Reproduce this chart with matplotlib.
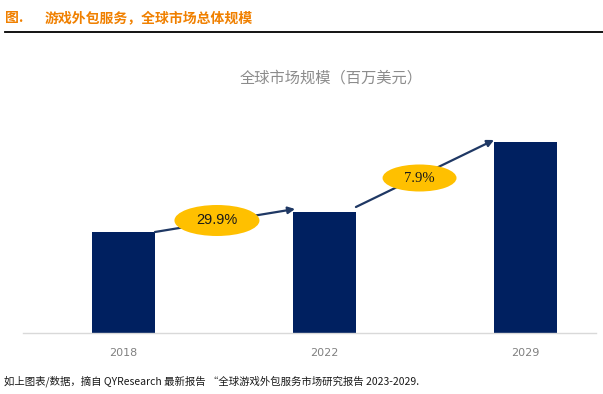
import matplotlib
matplotlib.use("Agg")
import matplotlib.pyplot as plt
from matplotlib.patches import Ellipse
from matplotlib.lines import Line2D

plt.rcParams['font.family'] = ['Noto Sans CJK SC', 'DejaVu Sans']

# Data (relative units)
years = ["2018", "2022", "2029"]
values = [101, 121, 191]
growth_labels = ["29.9%", "7.9%"]

W, H = 603, 394
fig = plt.figure(figsize=(W / 100, H / 100), dpi=100)
ax = fig.add_axes([23 / W, 1 - 333 / H, (596 - 23) / W, 233 / H])

bar_w = 0.313
x = list(range(len(years)))
navy = "#002060"
ax.bar(x, values, width=bar_w, color=navy, zorder=2)
ax.set_xlim(-0.5, 2.351)
ax.set_ylim(0, 233)
ax.set_xticks(x)
ax.set_xticklabels(years, color="#808080", fontsize=8, family=['DejaVu Sans'])
ax.tick_params(axis='x', length=0, pad=11)
ax.set_yticks([])
for s in ["top", "right", "left"]:
    ax.spines[s].set_visible(False)
ax.spines["bottom"].set_color("#D9D9D9")
ax.spines["bottom"].set_linewidth(1.0)

# Arrows between bars
arrow_col = "#1F3864"
starts = [(0 + bar_w / 2, values[0]), (1 + bar_w / 2, values[1] + 5)]
ends = [(1 - bar_w / 2 + 0.01, values[1] + 3), (2 - bar_w / 2, values[2] + 2)]
ell_sizes = [(0.423, 31), (0.368, 27)]
ell_offsets = [(-0.04, 0), (-0.027, -4.5)]
fonts = [['Liberation Sans'], ['Liberation Serif']]
for i in range(2):
    ax.annotate("", xy=ends[i], xytext=starts[i],
                arrowprops=dict(arrowstyle="-|>", color=arrow_col, lw=1.6,
                                mutation_scale=10, shrinkA=0, shrinkB=0),
                zorder=3)
    mx = (starts[i][0] + ends[i][0]) / 2 + ell_offsets[i][0]
    my = (starts[i][1] + ends[i][1]) / 2 + ell_offsets[i][1]
    e = Ellipse((mx, my), ell_sizes[i][0], ell_sizes[i][1], color="#FFC000",
                ec="none", zorder=4)
    ax.add_patch(e)
    ax.text(mx, my, growth_labels[i], ha="center", va="center", fontsize=10.5,
            color="#1a1a1a", family=fonts[i], zorder=5)

# Chart title
fig.text(331 / W, 1 - 78 / H, "全球市场规模（百万美元）", ha="center", va="center",
         fontsize=11, color="#8C8C8C")

# Header
orange = "#F08000"
fig.text(5 / W, 1 - 18 / H, "图.", ha="left", va="center", fontsize=10,
         fontweight="bold", color=orange)
fig.text(45 / W, 1 - 18 / H, "游戏外包服务，全球市场总体规模", ha="left", va="center",
         fontsize=10, fontweight="bold", color=orange)
fig.add_artist(Line2D([5 / W, 1], [1 - 32 / H] * 2, color="black", lw=1.3))

# Footer
fig.text(4 / W, 1 - 381 / H,
         "如上图表/数据，摘自 QYResearch 最新报告 “全球游戏外包服务市场研究报告 2023-2029.",
         ha="left", va="center", fontsize=7.5, style="italic", color="#1a1a1a")

fig.savefig("out.png", dpi=100)
